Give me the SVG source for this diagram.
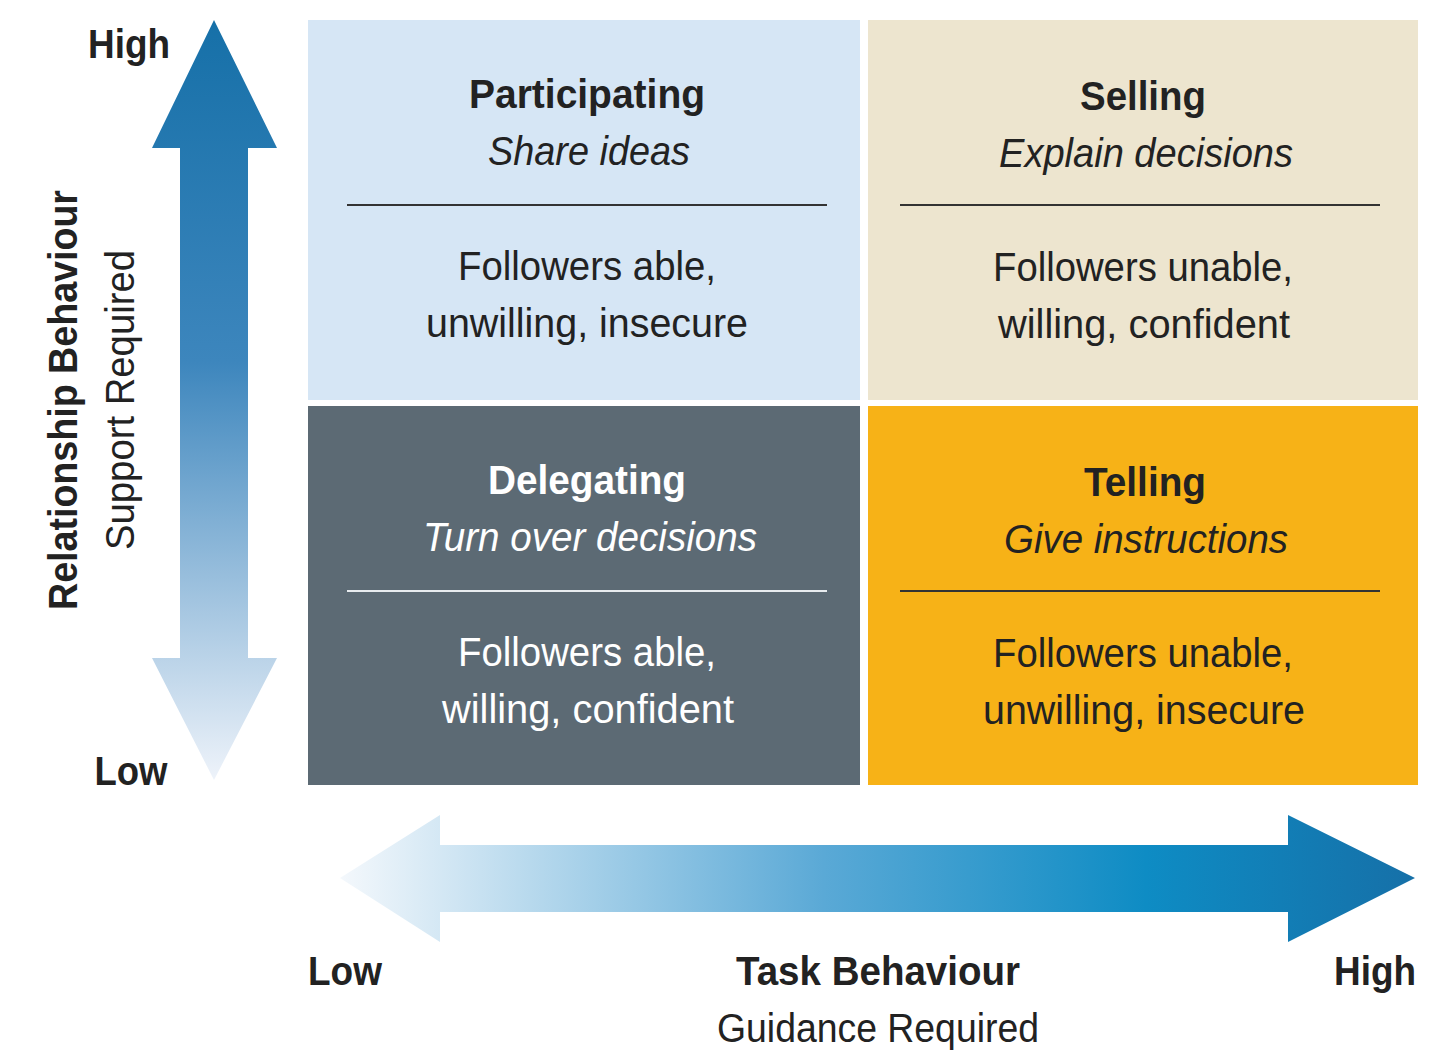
<svg xmlns="http://www.w3.org/2000/svg" width="1440" height="1059" viewBox="0 0 1440 1059">
<defs>
<linearGradient id="gv" x1="0" y1="0" x2="0" y2="1"><stop offset="0" stop-color="#1670a8"/><stop offset="0.45" stop-color="#3d86bd"/><stop offset="1" stop-color="#eef3fa"/></linearGradient>
<linearGradient id="gh" x1="0" y1="0" x2="1" y2="0"><stop offset="0" stop-color="#f4f8fc"/><stop offset="0.45" stop-color="#5aa9d6"/><stop offset="0.75" stop-color="#0e8cc4"/><stop offset="1" stop-color="#1670a8"/></linearGradient>
<style>
text{font-family:"Liberation Sans",Arial,sans-serif;fill:#222;text-anchor:middle;font-size:40px}
.b{font-weight:bold}.i{font-style:italic}.w{fill:#fff}
.rule{stroke:#333;stroke-width:2}
</style>
</defs>
<g id="connectors">
<path d="M214,20 L277,148 L248,148 L248,658 L277,658 L214,780 L152,658 L180,658 L180,148 L152,148 Z" fill="url(#gv)"/>
<path d="M340,878 L440,815 L440,845 L1288,845 L1288,815 L1415,878 L1288,942 L1288,912 L440,912 L440,942 Z" fill="url(#gh)"/>
</g>
<g id="participating">
<rect x="308" y="20" width="552" height="380" fill="#d6e6f5"/>
<text class="b" x="587" y="108" textLength="236" lengthAdjust="spacingAndGlyphs">Participating</text>
<text class="i" x="589" y="165" textLength="202" lengthAdjust="spacingAndGlyphs">Share ideas</text>
<line class="rule" x1="347" y1="205" x2="827" y2="205"/>
<text x="587" y="280" textLength="258" lengthAdjust="spacingAndGlyphs">Followers able,</text>
<text x="587" y="337" textLength="322" lengthAdjust="spacingAndGlyphs">unwilling, insecure</text>
</g>
<g id="selling">
<rect x="868" y="20" width="550" height="380" fill="#ede5cf"/>
<text class="b" x="1143" y="110" textLength="126" lengthAdjust="spacingAndGlyphs">Selling</text>
<text class="i" x="1146" y="167" textLength="294" lengthAdjust="spacingAndGlyphs">Explain decisions</text>
<line class="rule" x1="900" y1="205" x2="1380" y2="205"/>
<text x="1143" y="281" textLength="300" lengthAdjust="spacingAndGlyphs">Followers unable,</text>
<text x="1144" y="338" textLength="292" lengthAdjust="spacingAndGlyphs">willing, confident</text>
</g>
<g id="delegating">
<rect x="308" y="406" width="552" height="379" fill="#5c6a74"/>
<text class="b w" x="587" y="494" textLength="198" lengthAdjust="spacingAndGlyphs">Delegating</text>
<text class="i w" x="590" y="551" textLength="334" lengthAdjust="spacingAndGlyphs">Turn over decisions</text>
<line x1="347" y1="591" x2="827" y2="591" stroke="#e8ecef" stroke-width="2"/>
<text class="w" x="587" y="666" textLength="258" lengthAdjust="spacingAndGlyphs">Followers able,</text>
<text class="w" x="588" y="723" textLength="292" lengthAdjust="spacingAndGlyphs">willing, confident</text>
</g>
<g id="telling">
<rect x="868" y="406" width="550" height="379" fill="#f7b217"/>
<text class="b" x="1145" y="496" textLength="122" lengthAdjust="spacingAndGlyphs">Telling</text>
<text class="i" x="1146" y="553" textLength="284" lengthAdjust="spacingAndGlyphs">Give instructions</text>
<line class="rule" x1="900" y1="591" x2="1380" y2="591"/>
<text x="1143" y="667" textLength="300" lengthAdjust="spacingAndGlyphs">Followers unable,</text>
<text x="1144" y="724" textLength="322" lengthAdjust="spacingAndGlyphs">unwilling, insecure</text>
</g>
<g id="labels">
<text class="b" x="129" y="58" textLength="82" lengthAdjust="spacingAndGlyphs">High</text>
<text class="b" x="131" y="785" textLength="73" lengthAdjust="spacingAndGlyphs">Low</text>
<text class="b" x="345" y="985" textLength="74" lengthAdjust="spacingAndGlyphs">Low</text>
<text class="b" x="878" y="985" textLength="284" lengthAdjust="spacingAndGlyphs">Task Behaviour</text>
<text x="878" y="1042" textLength="322" lengthAdjust="spacingAndGlyphs">Guidance Required</text>
<text class="b" x="1375" y="985" textLength="82" lengthAdjust="spacingAndGlyphs">High</text>
<text class="b" transform="translate(77,400) rotate(-90)" textLength="420" lengthAdjust="spacingAndGlyphs">Relationship Behaviour</text>
<text transform="translate(134,400) rotate(-90)" textLength="300" lengthAdjust="spacingAndGlyphs">Support Required</text>
</g>
</svg>
